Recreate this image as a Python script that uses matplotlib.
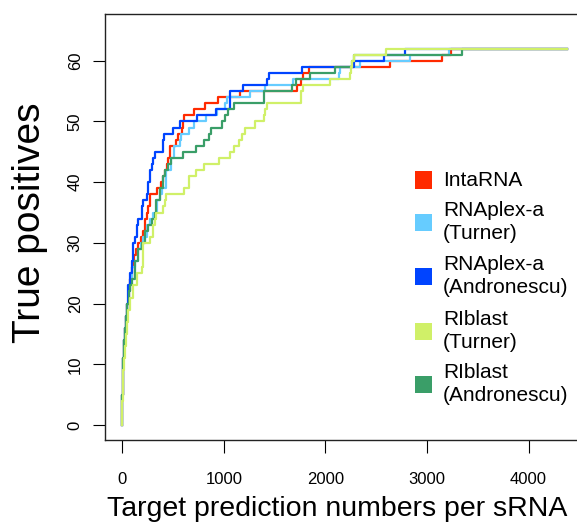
import matplotlib
matplotlib.use("Agg")
import matplotlib.pyplot as plt
from matplotlib.patches import Rectangle

plt.rcParams['font.family'] = ['Liberation Sans', 'DejaVu Sans']

# cumulative true positives vs. number of target predictions (step curves)
x_end = 4375

intarna_x = [0, 2, 5, 10, 18, 28, 40, 52, 65, 80, 100, 120, 140, 160, 185, 207, 224, 240, 256, 273,
             340, 386, 400, 419, 440, 451, 467, 532, 548, 590, 597, 613, 711, 818, 948, 1155, 1720, 1760,
             1780, 1835, 2640, 3145, 3235]
intarna_y = [0, 5, 8, 11, 14, 16, 18, 20, 22, 24, 26, 28, 29, 30, 31, 32, 34, 35, 36, 38,
             39, 40, 41, 42, 43, 44, 46, 47, 48, 49, 50, 51, 52, 53, 54, 55, 56, 57,
             58, 59, 60, 61, 62]

rnaplex_t_x = [0, 2, 5, 10, 18, 28, 40, 50, 65, 80, 100, 127, 159, 182, 207, 240, 270, 305, 340, 370,
               390, 430, 484, 506, 565, 581, 662, 711, 824, 938, 1014, 1030, 1260, 1407, 1686, 2129,
               2139, 2342, 2835, 3220]
rnaplex_t_y = [0, 5, 8, 11, 14, 16, 18, 20, 22, 24, 26, 27, 29, 30, 31, 33, 34, 35, 37, 38,
               39, 42, 44, 46, 47, 48, 49, 50, 51, 52, 53, 54, 55, 56, 57, 58,
               59, 60, 61, 62]

rnaplex_a_x = [0, 2, 5, 10, 18, 28, 40, 46, 62, 78, 94, 104, 127, 143, 159, 198, 207, 240, 256, 273,
               289, 305, 321, 402, 406, 412, 500, 565, 733, 922, 1057, 1194, 1425, 1441, 1769, 2277,
               2573, 2785]
rnaplex_a_y = [0, 5, 8, 11, 14, 16, 18, 20, 23, 25, 27, 30, 31, 33, 34, 36, 37, 38, 40, 42,
               43, 44, 45, 46, 47, 48, 49, 50, 51, 52, 55, 56, 57, 58, 59, 60,
               61, 62]

riblast_t_x = [0, 3, 6, 13, 20, 29, 38, 46, 62, 78, 110, 143, 191, 207, 273, 305, 321, 337, 402, 419,
               435, 613, 662, 727, 808, 954, 1064, 1096, 1145, 1178, 1211, 1309, 1391, 1407, 1424, 1759,
               1764, 1778, 2041, 2238, 2249, 2265, 2277, 2598]
riblast_t_y = [0, 4, 7, 9, 11, 13, 15, 17, 19, 21, 23, 25, 26, 30, 31, 33, 34, 35, 36, 37,
               38, 39, 41, 42, 43, 44, 45, 46, 47, 48, 49, 50, 51, 52, 53, 54,
               55, 56, 57, 58, 59, 60, 61, 62]

riblast_a_x = [0, 2, 5, 10, 18, 28, 40, 50, 65, 80, 100, 127, 159, 191, 224, 256, 289, 321, 337, 370,
               400, 419, 451, 484, 597, 727, 808, 857, 873, 987, 1014, 1046, 1096, 1391, 1670, 1713,
               1850, 2097, 2261, 2277, 3343]
riblast_a_y = [0, 5, 8, 11, 14, 16, 18, 20, 22, 23, 24, 27, 29, 30, 32, 33, 34, 35, 37, 39,
               41, 42, 43, 44, 45, 46, 47, 48, 49, 50, 51, 52, 53, 55, 56, 57,
               58, 59, 60, 61, 62]

labels = ['IntaRNA', 'RNAplex-a\n(Turner)', 'RNAplex-a\n(Andronescu)', 'RIblast\n(Turner)',
          'RIblast\n(Andronescu)']
colors = ['#FF2A00', '#66CCFF', '#0044FF', '#D0F068', '#3A9E68']

W, H = 577, 523
fig = plt.figure(figsize=(W / 100, H / 100), dpi=100)
ax = fig.add_axes([105 / W, 83 / H, (584.5 - 105) / W, (440 - 14.3) / H])

series = [(intarna_x, intarna_y, colors[0]),
          (rnaplex_t_x, rnaplex_t_y, colors[1]),
          (rnaplex_a_x, rnaplex_a_y, colors[2]),
          (riblast_a_x, riblast_a_y, colors[4]),
          (riblast_t_x, riblast_t_y, colors[3])]
for xs, ys, c in series:
    ax.plot(xs + [x_end], ys + [ys[-1]], drawstyle='steps-post', color=c, lw=1.6)

ax.set_xlim(-169, 4550)
ax.set_ylim(-2.47, 67.66)
ax.set_xticks([0, 1000, 2000, 3000, 4000])
ax.set_yticks([0, 10, 20, 30, 40, 50, 60])
ax.tick_params(axis='x', length=9, width=0.8, labelsize=12, pad=14)
ax.tick_params(axis='y', length=9, width=0.8, labelsize=12, pad=7)
for lab in ax.get_yticklabels():
    lab.set_rotation(90)
    lab.set_va('center')
ax.spines['right'].set_visible(False)
for s in ['left', 'bottom', 'top']:
    ax.spines[s].set_linewidth(1.0)
    ax.spines[s].set_color('#222222')

fig.text(337.5 / W, 7 / H, 'Target prediction numbers per sRNA', fontsize=20.5,
         ha='center', va='baseline')
fig.text(30 / W, 1 - 223 / H, 'True positives', fontsize=28, rotation=90,
         ha='center', va='center')

# legend drawn by hand (R style filled squares)
centers = [180, 222, 276, 331, 384]
for lab, c, cy in zip(labels, colors, centers):
    fig.add_artist(Rectangle((415 / W, 1 - (cy + 8.5) / H), 17 / W, 17 / H,
                             transform=fig.transFigure, facecolor=c, edgecolor='none'))
    fig.text(443 / W, 1 - cy / H, lab, fontsize=15, ha='left', va='center',
             linespacing=1.25)

fig.savefig('out.png', dpi=100)
